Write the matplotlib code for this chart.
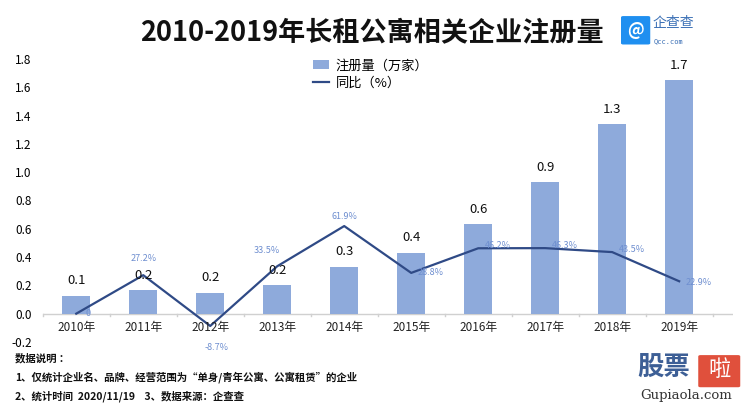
import numpy as np
import matplotlib.pyplot as plt
from matplotlib.patches import FancyBboxPatch

plt.rcParams['font.family'] = ['Noto Sans CJK SC', 'DejaVu Sans']

years = ['2010年', '2011年', '2012年', '2013年', '2014年',
         '2015年', '2016年', '2017年', '2018年', '2019年']
counts = [0.127, 0.165, 0.148, 0.20, 0.33, 0.43, 0.63, 0.93, 1.34, 1.65]
count_labels = ['0.1', '0.2', '0.2', '0.2', '0.3', '0.4', '0.6', '0.9', '1.3', '1.7']
yoy = [0, 27.2, -8.7, 33.5, 61.9, 28.8, 46.2, 46.3, 43.5, 22.9]
yoy_labels = ['0', '27.2%', '-8.7%', '33.5%', '61.9%', '28.8%', '46.2%', '46.3%', '43.5%', '22.9%']

bar_color = '#8eaadb'
line_color = '#2f4a86'
pct_color = '#6f8fd0'

fig = plt.figure(figsize=(7.5, 4.12), dpi=100)
ax = fig.add_axes([0.057, 0.170, 0.920, 0.687])

x = np.arange(len(years))
bars = ax.bar(x, counts, width=0.42, color=bar_color, label='注册量（万家）', zorder=2)
yoy_frac = [v / 100 for v in yoy]
line, = ax.plot(x, yoy_frac, color=line_color, lw=1.6, label='同比（%）', zorder=3)

for i, (c, lab) in enumerate(zip(counts, count_labels)):
    ax.text(i, c + 0.06, lab, ha='center', va='bottom', fontsize=9.5, color='#111111')

# offsets for percentage labels (data units)
offs = [(0.18, 0.0, 'center'), (0, 0.12, 'center'), (0.1, -0.15, 'center'),
        (-0.15, 0.11, 'center'), (0, 0.07, 'center'), (0.1, 0, 'left'),
        (0.1, 0.02, 'left'), (0.1, 0.02, 'left'), (0.1, 0.02, 'left'),
        (0.1, -0.01, 'left')]
for i, (v, lab) in enumerate(zip(yoy_frac, yoy_labels)):
    dx, dy, ha = offs[i]
    ax.text(i + dx, v + dy, lab, ha=ha, va='center', fontsize=6.5, color=pct_color)

ax.set_xlim(-0.5, 9.8)
ax.set_ylim(-0.2, 1.8)
ax.set_yticks(np.arange(-0.2, 1.81, 0.2))
ax.set_yticklabels(['%.1f' % t for t in np.arange(-0.2, 1.81, 0.2)])
ax.tick_params(axis='y', length=0, labelsize=8.5, pad=8)
ax.set_xticks(x)
ax.set_xticklabels([])
for i, y in enumerate(years):
    ax.text(i, -0.095, y, ha='center', va='center', fontsize=8.5, color='#222222')
ax.tick_params(axis='x', length=0)
for s in ['top', 'right', 'left', 'bottom']:
    ax.spines[s].set_visible(False)
ax.axhline(0, color='#d0d0d0', lw=1, zorder=1)
for b in np.arange(-0.5, 9.6, 1.0):
    ax.plot([b, b], [0, -0.02], color='#d0d0d0', lw=1, clip_on=False, zorder=1)

ax.legend([bars, line], ['注册量（万家）', '同比（%）'], loc='upper left',
          bbox_to_anchor=(0.375, 1.04), frameon=False,
          fontsize=9.5, handlelength=1.2, handleheight=0.7,
          labelspacing=0.35, handletextpad=0.5)

fig.text(0.496, 0.92, '2010-2019年长租公寓相关企业注册量', ha='center', va='center',
         fontsize=19.5, fontweight='bold', color='#111111')

# qcc logo
fig.patches.append(FancyBboxPatch((0.831, 0.895), 0.033, 0.063, boxstyle='round,pad=0.003',
                                  transform=fig.transFigure, fc='#1f8ff0', ec='none'))
fig.text(0.847, 0.926, '@', ha='center', va='center', fontsize=12, color='white', fontweight='bold')
fig.text(0.870, 0.945, '企查查', ha='left', va='center', fontsize=10, color='#3a6fb5')
fig.text(0.871, 0.900, 'Qcc.com', ha='left', va='center', fontsize=5, color='#3a6fb5',
         family='DejaVu Sans Mono')

notes = ['数据说明 ：',
         '1、仅统计企业名、品牌、经营范围为“单身/青年公寓、公寓租赁”的企业',
         '2、统计时间  2020/11/19    3、数据来源：企查查']
for k, n in enumerate(notes):
    fig.text(0.020, 1 - (358 + k * 19) / 412, n, ha='left', va='center',
             fontsize=7.5, fontweight='bold', color='#111111')

# watermark
fig.text(0.885, 1 - 368 / 412, '股票', ha='center', va='center', fontsize=19,
         fontweight='bold', color='#3d5f96')
fig.patches.append(FancyBboxPatch((0.934, 1 - 386 / 412), 0.050, 0.072, boxstyle='round,pad=0.003',
                                  transform=fig.transFigure, fc='#e0503c', ec='none'))
fig.text(0.959, 1 - 369 / 412, '啦', ha='center', va='center', fontsize=16, color='white')
fig.text(0.915, 1 - 396 / 412, 'Gupiaola.com', ha='center', va='center', fontsize=9.5,
         family='DejaVu Serif', color='#333333')

fig.savefig('out.png', dpi=100)
